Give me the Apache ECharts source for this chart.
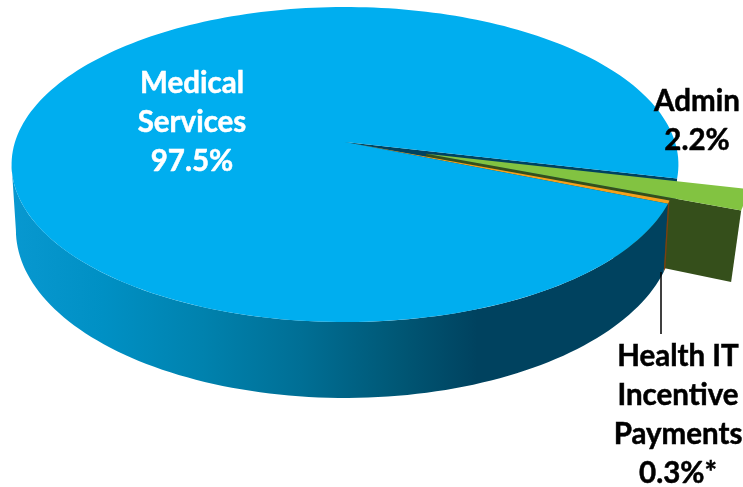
<!DOCTYPE html>
<html><head><meta charset="utf-8">
<style>html,body{margin:0;padding:0;background:#fff}#c{width:743px;height:487px}</style>
<script src="https://cdn.jsdelivr.net/npm/echarts@6/dist/echarts.min.js"></script>
</head><body><div id="c"></div>
<script>
const categories = ['Medical Services', 'Admin', 'Health IT Incentive Payments'];
const shares = [97.5, 2.2, 0.3];
const labelLines = [['Medical','Services','97.5%'], ['Admin','2.2%'], ['Health IT','Incentive','Payments','0.3%*']];
const labelColors = ['#ffffff', '#000000', '#000000'];
const faceColors = ['#00AEEF', '#82C341', '#F5A11D'];
const firstSliceStart = 13.2;
const order = [1, 2, 0];

const chart = echarts.init(document.getElementById('c'), null, {renderer:'canvas'});
const K = 0.143, RX = 330, RY = 154.3, CX = 345, TOP_Y = 142, BOT_Y = 206, BOT_FX = 0.987, BOT_FY = 1.066;
const EXPLODE = 0.254, EXPLODE_R = 0.95, EXPLODE_BOT_U = 0.985, EXPLODE_BOT_V = 1.04;

function proj(u, v, bottom) {
  const d = 1 - K * v;
  const fx = bottom ? BOT_FX : 1, fy = bottom ? BOT_FY : 1, y0 = bottom ? BOT_Y : TOP_Y;
  return [CX + fx * RX * u / d, y0 + fy * RY * v / d];
}
const rad = a => a * Math.PI / 180;
function arcPts(ox, oy, r, a0, a1, bottom) {
  const n = Math.max(2, Math.ceil(Math.abs(a1 - a0) / 1.5)), p = [];
  for (let i = 0; i <= n; i++) {
    const a = rad(a0 + (a1 - a0) * i / n);
    p.push(proj(ox + r * Math.cos(a), oy + r * Math.sin(a), bottom));
  }
  return p;
}
// angular ranges from the shares
const ranges = {};
let cursor = firstSliceStart;
order.forEach(i => { const sw = shares[i] / 100 * 360; ranges[i] = [cursor, cursor + sw]; cursor += sw; });

const wallGrad = new echarts.graphic.LinearGradient(0, 0, 1, 0, [
  {offset:0, color:'#0898D0'},{offset:0.14, color:'#0090C4'},{offset:0.29, color:'#0082AE'},
  {offset:0.44, color:'#006F95'},{offset:0.59, color:'#005775'},{offset:0.71, color:'#00425F'},{offset:1, color:'#00425F'}]);
const poly = (points, fill) => ({type:'polygon', shape:{points}, style:{fill}});

function renderItem() {
  const med = ranges[0], adm = ranges[1], hit = ranges[2];
  const kids = [];
  // cut wall of the medical slice, seen in the gap
  const a = rad(med[1] - 360);
  const mu = Math.cos(a), mv = Math.sin(a);
  kids.push(poly([proj(0,0,false), proj(mu,mv,false), proj(mu,mv,true), proj(0,0,true)], '#00425F'));
  // admin exploded: wall then face
  const mid = rad((adm[0]+adm[1])/2), ox = EXPLODE*Math.cos(mid), oy = EXPLODE*Math.sin(mid);
  const e = rad(adm[1]), eu = ox+EXPLODE_R*Math.cos(e), ev = oy+EXPLODE_R*Math.sin(e);
  kids.push(poly([proj(ox,oy,false), proj(eu,ev,false), proj(eu*EXPLODE_BOT_U,ev*EXPLODE_BOT_V,true), proj(ox,oy,true)], '#354F1B'));
  kids.push(poly([proj(ox,oy,false)].concat(arcPts(ox,oy,EXPLODE_R,adm[0],adm[1],false)), faceColors[1]));
  // medical outer wall, from the cut round to the silhouette tangent
  const tangent = 180 - Math.asin(K) * 180 / Math.PI;
  const tp = arcPts(0,0,1,hit[1],tangent,false), bp = arcPts(0,0,1,hit[1],tangent,true);
  kids.push(poly(tp.concat(bp.reverse()), wallGrad));
  // health IT wall + face
  const ht = arcPts(0,0,1,hit[0],hit[1],false), hb = arcPts(0,0,1,hit[0],hit[1],true);
  kids.push(poly(ht.concat(hb.reverse()), '#7A3F12'));
  kids.push(poly([proj(0,0,false)].concat(arcPts(0,0,1,hit[0],hit[1],false)), faceColors[2]));
  // medical face
  kids.push(poly([proj(0,0,false)].concat(arcPts(0,0,1,med[0],med[1],false)), faceColors[0]));
  // leader line
  kids.push({type:'line', shape:{x1:661,y1:272,x2:661,y2:334}, style:{stroke:'#000',lineWidth:1.5}});
  return {type:'group', children:kids};
}

const textPos = [[192,122],[697,121],[678,415]];
chart.setOption({
  animation:false,
  backgroundColor:'#fff',
  series:[{type:'custom', coordinateSystem:'none', silent:true, clip:false,
    data:[categories.map((c,i)=>shares[i])], renderItem}],
  graphic: labelLines.map((ls,i)=>({type:'text', x:textPos[i][0], y:textPos[i][1], z:50,
    style:{text:ls.join('\n'), fill:labelColors[i], font:'bold 29.5px Lato, Carlito, sans-serif',
      stroke:labelColors[i], lineWidth:0.5,
      lineHeight:39, align:'center', verticalAlign:'middle'}}))
});
</script></body></html>
